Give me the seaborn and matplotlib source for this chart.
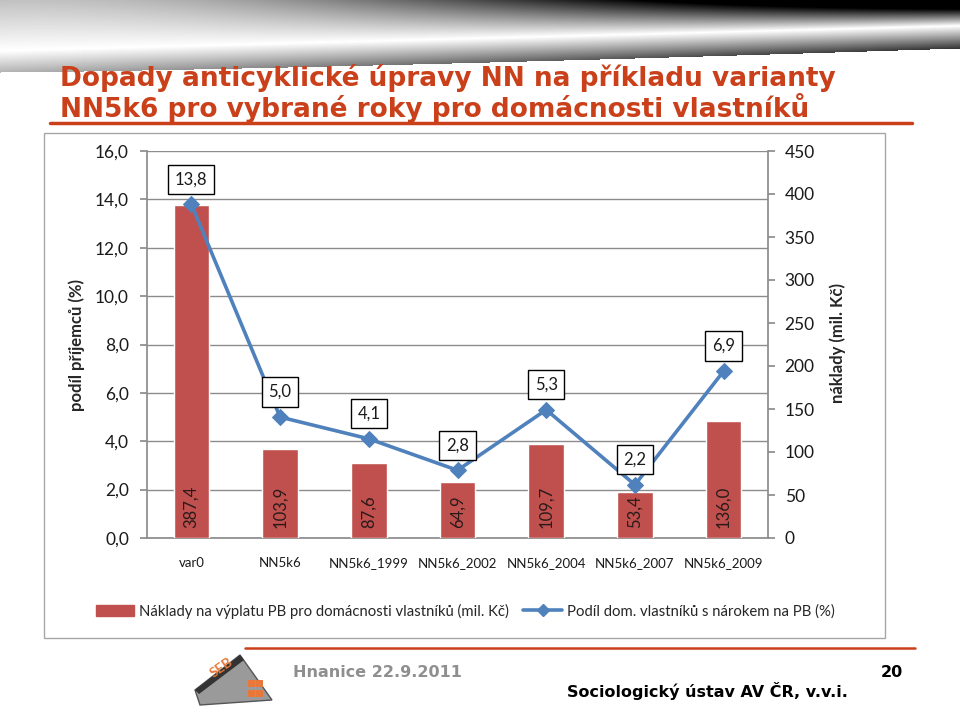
import numpy as np
import seaborn as sns
import matplotlib.pyplot as plt
from matplotlib.patches import Rectangle, Polygon
from matplotlib.lines import Line2D

# Data
kategorie = ["var0", "NN5k6", "NN5k6_1999", "NN5k6_2002", "NN5k6_2004", "NN5k6_2007", "NN5k6_2009"]
naklady = [387.4, 103.9, 87.6, 64.9, 109.7, 53.4, 136.0]   # mil. Kč (right axis)
podil = [13.8, 5.0, 4.1, 2.8, 5.3, 2.2, 6.9]                 # % (left axis)
lev_ticks = [0, 2, 4, 6, 8, 10, 12, 14, 16]
prav_ticks = [0, 50, 100, 150, 200, 250, 300, 350, 400, 450]

titul_1 = "Dopady anticyklické úpravy NN na příkladu varianty"
titul_2 = "NN5k6 pro vybrané roky pro domácnosti vlastníků"
leg_bar = "Náklady na výplatu PB pro domácnosti vlastníků (mil. Kč)"
leg_line = "Podíl dom. vlastníků s nárokem na PB (%)"

BAR_C = "#C0504D"
LINE_C = "#4F81BD"
ORANGE = "#C9401A"
GRID_C = "#8C8C8C"
FONT = "Lato"


def cz(v, d=1):
    return f"{v:.{d}f}".replace(".", ",")


W, H = 960, 707
fx = lambda x: x / W
fy = lambda y: 1 - y / H

sns.set_theme(style="white")
plt.rcParams["font.family"] = ["DejaVu Sans"]

fig = plt.figure(figsize=(9.6, 7.07), dpi=100)
fig.patch.set_facecolor("white")

# top banner gradient (decoration)
ban = fig.add_axes([0, fy(75), 1, 75 / H])
ban.set_zorder(-2)
yy, xx = np.mgrid[0:75, 0:W]
u = xx / W
v = yy / 72
s = 0.7 - 0.35 * u
above = np.clip(s - v, 0, None)
below = np.clip(v - s, 0, None)
dark = above * (0.35 + 4.0 * u ** 2) + below * (1.0 + 1.5 * u)
img = 1 - np.clip(dark, 0, 1)
edge = 72 - 24 * u ** 1.3
img[yy > edge] = 1.0
ban.imshow(img, cmap="gray", vmin=0, vmax=1, aspect="auto", interpolation="bilinear")
ban.axis("off")

# title
fig.text(fx(60), fy(86), titul_1, color=ORANGE, fontsize=19, fontweight="bold",
         va="baseline", ha="left")
fig.text(fx(60), fy(117), titul_2, color=ORANGE, fontsize=19, fontweight="bold",
         va="baseline", ha="left")
fig.add_artist(Line2D([fx(50), fx(912)], [fy(123), fy(123)], color=ORANGE, lw=2.5))

# chart box
fig.add_artist(Rectangle((fx(44), fy(638)), fx(885) - fx(44), fy(133) - fy(638),
                         transform=fig.transFigure, fc="white", ec="#A6A6A6", lw=1,
                         zorder=-1))

rect = [fx(147), fy(538), fx(768) - fx(147), fy(151) - fy(538)]
ax = fig.add_axes(rect)
ax.patch.set_alpha(0)
ax2 = ax.twinx()
ax3 = ax.twinx()

# left axis: grid + ticks
ax.set_ylim(0, 16)
ax.set_yticks(lev_ticks)
ax.set_yticklabels([cz(t) for t in lev_ticks], fontsize=12.5, family=FONT, color="#1a1a1a")
ax.yaxis.grid(True, color=GRID_C, lw=1)
ax.set_axisbelow(True)

# bars on right axis
x = np.arange(len(kategorie))
sns.barplot(x=x, y=naklady, ax=ax2, color=BAR_C, width=0.4, saturation=1,
            native_scale=True)
ax2.set_ylim(0, 450)
ax2.set_yticks(prav_ticks)
ax2.set_yticklabels([str(t) for t in prav_ticks], fontsize=12.5, family=FONT, color="#1a1a1a")
for i, val in enumerate(naklady):
    ax2.annotate(cz(val), xy=(x[i], 0), xytext=(0, 7), textcoords="offset points",
                 rotation=90, ha="center", va="bottom", fontsize=12, family=FONT,
                 color="#2a1a1a")

# line on left scale
sns.lineplot(x=x, y=podil, ax=ax3, color=LINE_C, lw=2.6, marker="D", markersize=8,
             markeredgecolor=LINE_C, legend=False)
ax3.set_ylim(0, 16)
for i, val in enumerate(podil):
    ax3.annotate(cz(val), xy=(x[i], val), xytext=(0, 25), textcoords="offset pixels",
                 ha="center", va="center", fontsize=12, family=FONT, color="#1a1a1a",
                 bbox=dict(boxstyle="square,pad=0.4", fc="white", ec="black", lw=1))
ax3.set_yticks([])
ax3.set_ylabel("")

for a in (ax, ax2, ax3):
    a.set_xlim(-0.5, len(kategorie) - 0.5)
    for sp in a.spines.values():
        sp.set_visible(False)

ax.spines["left"].set_visible(True)
ax.spines["left"].set_color(GRID_C)
ax.spines["bottom"].set_visible(True)
ax.spines["bottom"].set_color(GRID_C)
ax2.spines["right"].set_visible(True)
ax2.spines["right"].set_color(GRID_C)

ax.set_xticks(x)
ax.set_xticklabels(kategorie, fontsize=9.5, family=FONT, color="#1a1a1a")
ax.set_xticks(np.arange(-0.5, len(kategorie), 1), minor=True)
ax.tick_params(axis="x", which="major", length=0, pad=14)
ax.tick_params(axis="x", which="minor", length=5, color=GRID_C, direction="out")
ax.tick_params(axis="y", length=5, color=GRID_C, direction="out", left=True, pad=8)
ax2.tick_params(axis="y", length=5, color=GRID_C, direction="out", right=True, pad=7)
ax2.set_ylabel("")
ax.set_ylabel("")

fig.text(fx(77), fy(345), "podíl příjemců (%)", rotation=90, ha="center", va="center",
         fontsize=12, fontweight="bold", family=FONT)
fig.text(fx(838), fy(343), "náklady (mil. Kč)", rotation=90, ha="center", va="center",
         fontsize=12, fontweight="bold", family=FONT)

# legend
handles = [Rectangle((0, 0), 1, 1, color=BAR_C),
           Line2D([0], [0], color=LINE_C, lw=2.6, marker="D", markersize=6)]
fig.legend(handles, [leg_bar, leg_line], loc="center", bbox_to_anchor=(fx(465), fy(611)),
           ncol=2, frameon=False, prop={"family": FONT, "size": 10.7}, handlelength=2.6,
           handletextpad=0.3, columnspacing=1.0)

# footer
fig.add_artist(Line2D([fx(245), fx(915)], [fy(648), fy(648)], color=ORANGE, lw=1.8))
fig.text(fx(293), fy(677), "Hnanice 22.9.2011", color="#8F8F8F", fontsize=11.5,
         fontweight="bold", va="baseline")
fig.text(fx(903), fy(677), "20", color="black", fontsize=11.5, fontweight="bold",
         va="baseline", ha="right")
fig.text(fx(848), fy(697), "Sociologický ústav AV ČR, v.v.i.", color="black", fontsize=11.5,
         fontweight="bold", va="baseline", ha="right")

# simple logo
fig.add_artist(Polygon([[fx(195), fy(690)], [fx(240), fy(655)], [fx(272), fy(700)],
                        [fx(200), fy(705)]], closed=True, transform=fig.transFigure,
                       fc="#9A9A9A", ec="#555555", lw=1))
fig.add_artist(Polygon([[fx(195), fy(690)], [fx(240), fy(655)], [fx(244), fy(660)],
                        [fx(199), fy(694)]], closed=True, transform=fig.transFigure,
                       fc="#333333", ec="none"))
for (px, py) in [(248, 680), (256, 680), (248, 690), (256, 690)]:
    fig.add_artist(Rectangle((fx(px), fy(py + 7)), 7 / W, 7 / H, transform=fig.transFigure,
                             fc="#E8783A", ec="none"))
fig.text(fx(222), fy(668), "SEB", color="#E8783A", fontsize=10, fontweight="bold",
         rotation=35, ha="center", va="center", family=FONT)

fig.savefig("out.png", dpi=100)
